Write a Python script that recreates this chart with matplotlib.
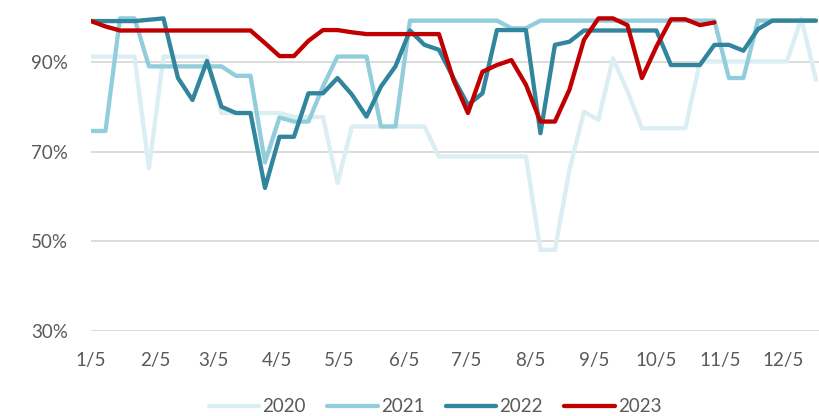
import numpy as np
import pandas as pd
import matplotlib
matplotlib.use("Agg")
import matplotlib.pyplot as plt

# weekly values, %
y2020 = [91.2, 91.2, 91.2, 91.2, 66.3, 91.2, 91.2, 91.2, 91.2, 78.6,
         78.6, 78.6, 78.6, 78.6, 77.7, 77.7, 77.7, 63.0, 75.6, 75.6,
         75.6, 75.6, 75.6, 75.6, 68.9, 68.9, 68.9, 68.9, 68.9, 68.9,
         68.9, 48.1, 48.1, 65.9, 78.9, 77.1, 90.8, 83.5, 75.2, 75.2,
         75.2, 75.2, 90.1, 90.1, 90.1, 90.1, 90.1, 90.1, 90.1, 99.7,
         86.0]
y2021 = [74.6, 74.6, 99.7, 99.7, 89.0, 89.0, 89.0, 89.0, 89.0, 89.0,
         86.9, 86.9, 67.6, 77.6, 76.7, 76.7, 84.5, 91.2, 91.2, 91.2,
         75.6, 75.6, 99.2, 99.2, 99.2, 99.2, 99.2, 99.2, 99.2, 97.5,
         97.5, 99.2, 99.2, 99.2, 99.2, 99.2, 99.2, 99.2, 99.2, 99.2,
         99.2, 99.2, 99.2, 99.2, 86.4, 86.4, 99.2, 99.2, 99.2, 99.2,
         99.2]
y2022 = [99.1, 99.1, 99.1, 99.1, 99.4, 99.7, 86.4, 81.5, 90.2, 80.0,
         78.6, 78.6, 61.9, 73.3, 73.3, 83.0, 83.0, 86.4, 82.7, 77.8,
         84.5, 89.0, 97.0, 93.8, 92.7, 86.4, 80.4, 83.0, 97.1, 97.1,
         97.1, 74.1, 93.8, 94.5, 97.0, 97.0, 97.0, 97.0, 97.0, 97.0,
         89.3, 89.3, 89.3, 93.8, 93.8, 92.5, 97.3, 99.2, 99.2, 99.2,
         99.2]
y2023 = [99.1, 97.9, 97.0, 97.0, 97.0, 97.0, 97.0, 97.0, 97.0, 97.0,
         97.0, 97.0, 94.2, 91.3, 91.3, 94.7, 97.1, 97.1, 96.6, 96.2,
         96.2, 96.2, 96.2, 96.2, 96.2, 86.0, 78.6, 87.8, 89.3, 90.4,
         84.9, 76.7, 76.7, 83.8, 94.9, 99.7, 99.7, 98.2, 86.4, 93.4,
         99.5, 99.5, 98.2, 98.8]

series = [("2020", y2020, "#DAEEF3"),
          ("2021", y2021, "#92CDDC"),
          ("2022", y2022, "#31859C"),
          ("2023", y2023, "#C00000")]

start = pd.Timestamp("2023-01-05")
ticks = [pd.Timestamp(2023, m, 5) for m in range(1, 13)]
tick_labels = [f"{m}/5" for m in range(1, 13)]

plt.rcParams['font.family'] = ['Lato', 'DejaVu Sans']

fig = plt.figure(figsize=(8.19, 4.16), dpi=100)
ax = fig.add_axes([91 / 819, 1 - 331 / 416, 1 - 91 / 819, 331 / 416])

for name, vals, col in series:
    x = start + pd.to_timedelta(np.arange(len(vals)) * 7, unit="D")
    ax.plot(x, vals, color=col, lw=3.1, label=name,
            solid_joinstyle="round", solid_capstyle="round")

ax.set_xlim(start, start + pd.Timedelta(days=351.5))
ax.set_ylim(30, 103.8)
ax.set_yticks([30, 50, 70, 90])
ax.set_yticklabels(["30%", "50%", "70%", "90%"])
ax.set_xticks(ticks)
ax.set_xticklabels(tick_labels)
ax.grid(axis="y", color="#D9D9D9", lw=1.3)
ax.set_axisbelow(True)
for s in ax.spines.values():
    s.set_visible(False)
ax.tick_params(axis="both", length=0, colors="#595959", labelsize=13.5)
ax.tick_params(axis="y", pad=16.5)
ax.tick_params(axis="x", pad=15)

leg = fig.legend(loc="center", bbox_to_anchor=(435 / 819, 1 - 407 / 416),
                 ncol=4, frameon=False, fontsize=13.5, handlelength=2.7,
                 columnspacing=1.15, handletextpad=0.15)
for t in leg.get_texts():
    t.set_color("#595959")

fig.savefig("out.png", dpi=100)
